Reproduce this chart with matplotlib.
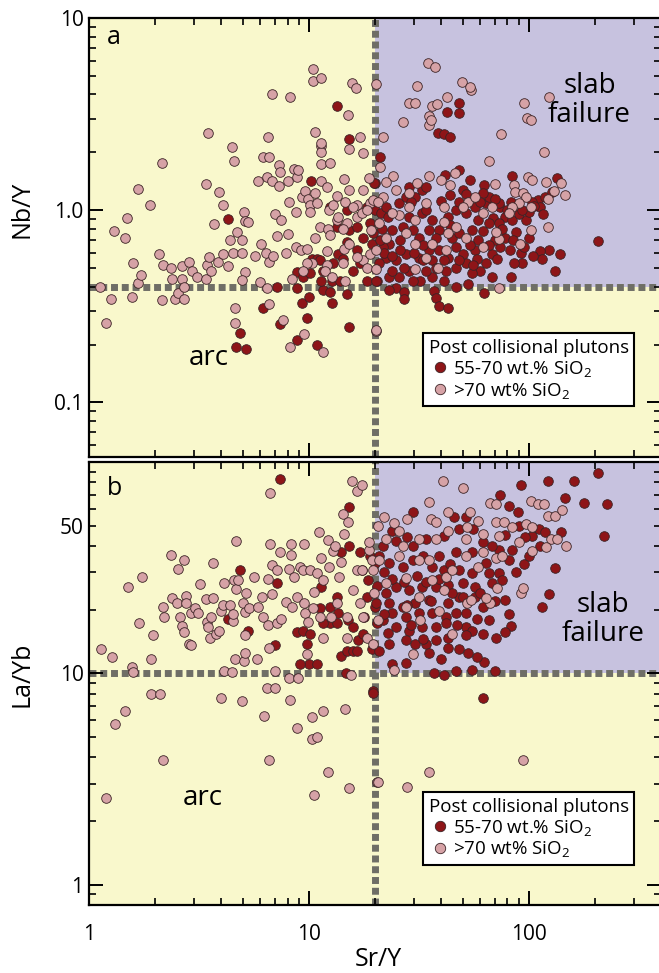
import matplotlib
matplotlib.use("Agg")
import matplotlib.pyplot as plt
import numpy as np
from matplotlib import ticker
from matplotlib.lines import Line2D

plt.rcParams['font.family'] = ['Open Sans', 'DejaVu Sans']
plt.rcParams['mathtext.fontset'] = 'custom'
plt.rcParams['mathtext.rm'] = 'Open Sans'
plt.rcParams['mathtext.it'] = 'Open Sans'

# thresholds between arc and slab failure fields
sr_y_cut = 20
nb_y_cut = 0.4
la_yb_cut = 10

# panel a: Nb/Y vs Sr/Y, 55-70 wt.% SiO2
a_red_x = [4.3, 13.4, 15.3, 10.2, 19.9, 4.85, 4.65, 5.2, 6.2, 7.15, 7.4, 8.8, 8.8, 9.3, 9.8, 10.0, 10.9,
           11.6, 12.5, 12.7, 14.9, 15.2, 8.8, 9.4, 10.1, 10.3, 10.9, 11.4, 11.6, 12.7, 12.9, 13.4, 13.5,
           14.3, 14.9, 15.3, 15.9, 16.5, 17.0, 17.6, 18.3, 18.9, 19.3, 19.5, 20.4, 12.5, 14.9, 18.3, 19.9,
           16.5, 11.2, 13.8,
           48, 42.3, 48, 38.5, 41, 44, 48, 41.5, 54, 62.5, 84, 135, 207, 21, 19.7, 21.2, 22.4, 23.1, 25,
           23.1, 27.2, 27.2, 37, 37.8, 39, 42.8, 46.6, 62.5, 83, 132, 139, 124, 112, 115, 93, 86, 92, 95,
           88, 97, 110, 113, 119, 104, 83, 74, 78, 69, 66, 73, 78, 74, 68, 64, 60, 68, 55, 52, 50, 57, 59,
           55, 59, 64, 66, 57, 52, 46.6, 43, 45, 46.6, 43, 42, 46.6, 41, 36.5, 34, 32, 29.7, 28.5, 27,
           25.6, 24, 25, 27.6, 31.6, 36.5, 39, 35.1, 31.6, 29.7, 26.8, 24, 23.1, 21.7, 20.8, 20.1, 22.4,
           25.6, 28.5, 32.8, 36.5, 39, 35.1, 27.6, 30.5, 32.8, 28.5, 34, 50, 62, 73, 84, 41, 53,
           26, 30, 33, 38, 44, 48, 54, 58, 62, 70, 76, 82, 90, 100, 106, 21.5, 23, 29, 34, 40, 44, 48, 52,
           60, 70, 80, 93, 128, 116, 21, 22, 24, 26, 33, 38, 48, 56, 66, 72, 85, 100, 105]
a_red_y = [0.90, 3.5, 2.35, 1.42, 1.39, 0.23, 0.195, 0.19, 0.31, 0.40, 0.256, 0.395, 0.21, 0.33, 0.276,
           0.355, 0.20, 0.385, 0.375, 0.33, 0.365, 0.247, 0.475, 0.45, 0.47, 0.56, 0.555, 0.43, 0.485,
           0.43, 0.53, 0.815, 0.595, 0.555, 0.68, 0.785, 0.485, 0.62, 0.53, 0.72, 0.43, 0.855, 0.67, 0.76,
           0.43, 1.04, 1.0, 1.04, 1.0, 0.815, 0.55, 0.43,
           3.63, 3.26, 3.2, 2.53, 2.5, 2.41, 1.62, 1.53, 1.44, 1.35, 1.51, 1.47, 0.69, 1.89, 1.39, 0.965,
           0.567, 0.45, 0.395, 0.385, 0.377, 0.345, 0.38, 0.35, 0.318, 0.31, 0.40, 0.372, 0.45, 0.48, 0.59,
           0.62, 0.61, 0.555, 0.53, 0.53, 0.60, 0.64, 0.77, 0.885, 1.13, 1.04, 1.17, 1.10, 1.10, 1.04,
           0.92, 0.91, 0.855, 0.855, 0.72, 0.64, 0.595, 0.53, 0.485, 0.45, 0.47, 0.53, 0.595, 0.62, 0.70,
           0.785, 0.885, 1.09, 1.17, 1.04, 0.965, 1.0, 0.92, 0.72, 0.64, 0.567, 0.485, 0.50, 0.43, 0.45,
           0.485, 0.43, 0.43, 0.485, 0.50, 0.45, 0.485, 0.548, 0.595, 0.567, 0.548, 0.62, 0.62, 0.72,
           0.785, 0.815, 0.785, 0.67, 0.64, 0.53, 0.43, 1.04, 1.09, 0.92, 0.965, 0.885, 0.785, 0.785, 1.17,
           1.17, 1.27, 1.32, 1.32, 1.27, 1.23, 1.09, 0.885, 0.548, 0.415,
           0.70, 0.60, 0.66, 0.72, 0.84, 0.76, 0.66, 0.56, 0.78, 0.70, 0.80, 0.62, 0.95, 0.98, 1.05, 0.80,
           0.92, 1.10, 1.00, 1.12, 1.20, 1.10, 1.22, 1.10, 1.15, 1.00, 1.00, 1.25, 0.95, 0.70, 0.60, 0.58,
           0.62, 0.55, 0.50, 0.55, 0.52, 0.66, 0.56, 0.70, 0.72, 0.58]

# panel a: Nb/Y vs Sr/Y, >70 wt% SiO2
a_pink_x = [1.12, 1.19, 1.26, 1.30, 1.46, 1.49, 1.57, 1.58, 1.67, 1.67, 1.72, 1.89, 2.08, 2.15, 2.15, 2.17,
            2.36, 2.38, 2.46, 2.54, 2.64, 2.64, 2.70, 2.70, 2.84, 2.94, 3.1, 3.4, 3.44, 3.5, 3.4, 3.47,
            3.6, 3.7, 3.85, 3.9, 4.05, 4.05, 4.3, 4.46, 4.55, 4.4, 4.5, 4.6, 4.6, 4.7, 4.95, 4.95, 5.06,
            5.1, 5.3, 5.1, 4.95, 5.7, 5.98, 6.05, 6.2, 6.4, 6.45, 6.5, 6.6, 5.9, 6.45, 6.8, 6.6, 6.6, 6.8,
            6.9, 7.05, 7.15, 7.3, 7.3, 7.4, 7.45, 7.6, 7.85, 8.0, 8.0, 8.1, 8.2, 8.2, 8.4, 8.6, 8.7, 8.7,
            8.8, 8.95, 9.2, 9.3, 9.5, 9.6, 9.8, 9.9, 10.1, 10.1, 10.3, 10.4, 10.4, 10.7, 10.7, 10.7, 10.9,
            11.2, 11.3, 11.4, 11.4, 11.3, 11.3, 11.4, 12.1, 12.1, 12.1, 12.2, 12.5, 12.5, 11.6, 12.3,
            12.9, 13.4, 13.4, 14.4, 14.6, 14.4, 14.6, 15.0, 15.2, 15.2, 15.7, 16.3, 16.5, 17.0, 17.6, 17.6,
            18.7, 18.9, 19.1, 18.9, 20.1, 20.1, 13.5, 14.9, 15.9, 16.5, 17.4, 18.3, 14.3, 15.3, 16.5, 18.3,
            14.3, 11.8, 12.7, 9.8, 9.4, 17.6, 19.5,
            34.7, 37.3, 31.2, 49.6, 54.4, 53.8, 42.3, 28.5, 30.3, 36.5, 38.1, 35.1, 35.1, 35.9, 26.7, 95,
            98, 102, 124, 75, 117, 66, 21.7, 21.0, 24.1, 35.3, 46, 40, 44, 70, 99, 103, 120, 141, 147, 123,
            131, 86, 87, 94, 97, 90, 102, 84, 81, 123, 102, 91, 73, 68, 62, 53, 57, 50, 41, 34, 31, 28.5,
            25, 22.4, 21.7, 20.6, 25.6, 30.5, 41, 46.6, 71, 62, 52, 43, 36.5, 30.5, 27.6, 22.4, 34, 42,
            30.5, 38.5, 20.1, 20.1, 73, 20.3, 20.8, 28.5, 24]
a_pink_y = [0.40, 0.26, 0.345, 0.78, 0.72, 0.91, 0.355, 0.53, 1.29, 0.42, 0.46, 1.06, 0.59, 1.76, 0.34, 0.52,
            0.50, 0.44, 0.345, 0.37, 0.51, 0.44, 0.345, 0.40, 0.54, 0.485, 0.45, 0.44, 0.52, 0.57, 1.37,
            2.53, 0.48, 0.845, 0.54, 1.24, 1.07, 0.595, 0.515, 2.14, 1.80, 0.70, 0.60, 0.31, 0.26, 0.77,
            0.70, 0.60, 0.975, 0.875, 0.865, 0.475, 0.435, 0.575, 0.425, 0.665, 1.89, 0.60, 0.395, 2.41,
            1.89, 1.42, 1.49, 1.42, 0.54, 0.325, 4.0, 0.575, 0.95, 0.73, 1.34, 1.72, 1.58, 0.89, 0.27, 0.60,
            0.75, 1.42, 1.10, 3.9, 0.195, 0.44, 1.64, 0.975, 0.64, 1.49, 1.62, 0.62, 1.17, 0.227, 1.26,
            0.625, 1.14, 1.06, 0.975, 0.53, 5.4, 4.7, 2.56, 0.72, 1.23, 1.09, 0.815, 2.16, 2.0, 4.9, 2.24,
            1.74, 1.42, 1.32, 0.61, 0.52, 0.795, 0.74, 1.76, 0.183, 1.0, 1.06, 1.18, 0.89, 1.45, 1.11,
            0.63, 0.43, 3.14, 2.09, 1.27, 4.6, 4.3, 1.06, 2.41, 1.99, 0.55, 1.47, 1.09, 0.785, 0.595, 4.56,
            0.235, 0.92, 0.855, 1.04, 0.92, 0.965, 1.0, 0.80, 0.67, 0.57, 0.50, 0.53, 0.485, 0.45, 0.53,
            0.485, 1.27, 1.13,
            5.8, 5.55, 4.45, 4.67, 4.2, 4.35, 3.9, 3.6, 3.6, 3.5, 3.55, 3.1, 2.79, 2.93, 2.89, 3.63, 3.03,
            2.93, 3.9, 2.50, 2.0, 1.80, 2.41, 1.68, 1.51, 1.51, 1.56, 1.44, 1.35, 1.37, 1.49, 1.44, 1.40,
            1.39, 1.20, 1.14, 1.26, 1.35, 1.24, 1.23, 1.17, 1.09, 1.04, 1.04, 0.965, 0.82, 0.785, 0.67,
            0.705, 1.04, 0.965, 1.10, 1.17, 1.04, 1.04, 1.09, 1.39, 1.23, 1.27, 1.40, 1.17, 1.10, 0.94,
            0.885, 0.865, 0.815, 0.77, 0.64, 0.72, 0.76, 0.67, 0.67, 0.76, 0.72, 0.567, 0.62, 0.497, 0.50,
            0.62, 0.497, 0.395, 0.238, 0.855, 1.04, 0.965]

# panel b: La/Yb vs Sr/Y, 55-70 wt.% SiO2
b_red_x = [7.4, 15.3, 4.85, 7.15, 7.05, 5.3, 4.3, 8.8, 9.4, 10.1, 9.8, 10.0, 10.9, 11.4, 11.2, 12.5, 13.4,
           13.5, 14.0, 14.0, 14.9, 15.0, 15.3, 15.9, 15.9, 16.5, 16.7, 17.0, 17.4, 17.7, 17.9, 18.3, 18.5,
           18.9, 19.3, 19.9, 19.9, 20.4, 14.7, 19.6, 9.1, 13.4, 11.6, 12.5,
           92, 123, 161, 207, 228, 178, 147, 220, 132, 124, 115, 74, 81, 89, 29.7, 45.6, 52, 111, 140, 119,
           104, 84, 73, 81, 64, 55, 46.6, 41, 34, 29.7, 25, 21.7, 20.8, 23.1, 26.7, 29.7, 36.5, 41, 48, 55,
           66, 73, 76, 68, 57, 50, 43, 37.8, 32.8, 28.5, 25, 22.4, 20.1, 23.1, 26.7, 30.5, 35.1, 43, 48,
           57, 62, 52, 46.6, 42, 36.5, 31.6, 27.6, 24, 21.7, 25, 28.5, 32.8, 37.8, 42, 52, 55, 62, 66, 78,
           81, 83, 78, 71, 52, 43, 37.8, 34, 30.5, 27.6, 23.1, 20.8, 24, 27.6, 35.1, 43, 48, 53, 62.5, 37,
           41, 46.6, 55, 70, 40, 19.6, 62,
           22, 24, 27, 31, 34, 39, 45, 50, 60, 70, 88, 95, 100, 62, 56, 48, 39, 33, 28, 24, 44, 36, 29, 58,
           68, 78, 90, 96, 112, 28, 33, 47, 22, 20.5, 23, 58]
b_red_y = [83, 61.5, 30.9, 26.8, 13.6, 15.9, 18.0, 15.6, 15.9, 15.4, 13.8, 11.1, 11.1, 25.6, 20.3, 17.2, 22.9,
           19.2, 12.1, 37.3, 12.8, 17.8, 39.9, 16.5, 12.8, 12.8, 14.3, 37.3, 30.9, 15.4, 18.4, 22.9, 27.7,
           35.7, 13.0, 33.4, 20.5, 17.2, 10.0, 8.2, 11.1, 17.2, 17.2, 20.5,
           77.5, 81.5, 81.5, 89, 63, 64, 67.8, 44.6, 31.6, 23.7, 20.5, 70, 62, 58, 58, 55, 55, 48, 46.5,
           46.5, 44.6, 38.5, 38.5, 34.5, 33.4, 37.3, 37.3, 44.6, 43, 39.9, 42.1, 39.9, 35.7, 33.4, 32.0,
           34.5, 32.0, 30.9, 30.9, 29.9, 29.9, 29.9, 27.7, 26.8, 25.6, 26.8, 26.2, 25.6, 25.6, 24.8, 25.6,
           24.0, 21.4, 21.4, 20.5, 21.4, 22.3, 21.4, 22.9, 22.9, 20.5, 19.2, 19.2, 18.4, 19.2, 19.2, 18.4,
           19.2, 17.8, 16.5, 15.9, 16.5, 16.5, 17.2, 16.5, 15.9, 15.4, 17.8, 22.3, 19.0, 16.7, 15.6, 14.7,
           15.1, 14.7, 14.3, 13.8, 13.8, 14.3, 13.8, 12.8, 11.1, 11.2, 12.5, 13.2, 13.0, 12.5, 11.3, 10.0,
           9.8, 10.3, 10.4, 10.2, 11.7, 8.1, 7.6,
           30, 28, 27, 29, 27, 28, 24, 23, 24, 22, 30, 33, 36, 42, 48, 48, 36, 36, 44, 47, 33, 22, 17, 18,
           40, 45, 50, 44, 40, 21, 14.5, 17, 19, 26, 15.5, 12]

# panel b: La/Yb vs Sr/Y, >70 wt% SiO2
b_pink_x = [1.13, 1.27, 1.19, 1.31, 1.46, 1.50, 1.57, 1.58, 1.69, 1.74, 1.91, 1.91, 1.95, 2.1, 2.17, 2.17,
            2.19, 2.36, 2.38, 2.5, 2.54, 2.59, 2.64, 2.7, 2.7, 2.76, 2.76, 2.84, 2.9, 2.9, 3.03, 3.13, 3.2,
            3.4, 3.44, 3.47, 3.55, 3.6, 3.65, 3.65, 3.78, 3.9, 3.97, 3.97, 4.05, 4.1, 4.1, 4.37, 4.46, 4.5,
            4.5, 4.55, 4.65, 4.6, 4.65, 4.75, 4.95, 5.0, 5.06, 5.1, 5.1, 5.1, 5.2, 5.33, 5.6, 5.8, 5.9,
            6.1, 6.2, 6.25, 6.45, 6.5, 6.5, 6.6, 6.6, 6.65, 6.65, 6.8, 6.8, 7.05, 7.05, 7.2, 7.2, 7.4,
            7.45, 7.9, 8.1, 8.1, 8.2, 8.3, 8.3, 8.4, 8.6, 8.8, 8.8, 8.9, 9.1, 9.5, 9.4, 9.5, 9.6, 9.8, 9.9,
            10.1, 10.3, 10.3, 10.4, 10.5, 10.9, 10.9, 11.1, 11.2, 11.4, 11.6, 11.6, 11.6, 12.2, 12.2, 12.3,
            12.6, 12.9, 13.1, 13.4, 13.7, 14.0, 14.3, 14.4, 14.6, 14.9, 15.0, 14.9, 15.3, 15.5, 15.7, 15.9,
            16.5, 16.5, 17.0, 17.4, 17.4, 17.6, 18.3, 18.7, 19.3, 20.4, 10.5,
            40.7, 50, 35.3, 43, 53.8, 67, 71, 102, 110, 118, 22, 24.4, 25.6, 28, 35.9, 37.8, 43, 52.5, 58.5,
            71, 77, 84, 97, 104, 122, 132, 142, 126, 135, 148, 120, 104, 90, 73, 62, 52, 37.8, 31.6, 26.7,
            22.4, 20.6, 18.7, 19.5, 20.8, 25.6, 31.6, 35.1, 41.9, 52, 62, 71, 76, 59, 45, 36.5, 27.6, 22.4,
            19.7, 31.6, 41, 52.5, 54.4, 67, 64, 72, 92, 94, 39, 27.6, 32, 45, 29.7, 24.4, 20.6, 19.5, 94,
            35.3, 27.9, 20.6]
b_pink_y = [13.0, 11.9, 2.56, 5.75, 6.64, 25.6, 10.7, 10.1, 17.2, 28.6, 11.7, 8.0, 15.1, 8.0, 20.5, 3.9,
            18.4, 36.1, 22.7, 21.4, 31.2, 18.4, 16.7, 15.6, 34.5, 23.2, 21.4, 13.8, 13.6, 19.2, 20.3, 19.2,
            26.5, 22.4, 17.4, 16.5, 14.7, 18.4, 33.1, 22.7, 15.4, 15.9, 7.6, 19.8, 21.0, 26.8, 10.3, 21.0,
            10.1, 17.6, 19.0, 27.7, 42.1, 11.7, 25.0, 27.7, 7.4, 21.4, 11.4, 19.4, 15.1, 12.5, 24.0, 20.3,
            28.6, 11.7, 20.5, 22.9, 18.4, 6.3, 8.5, 17.0, 28.0, 13.2, 3.9, 71, 40.7, 32.6, 23.7, 8.5, 10.3,
            17.2, 30.9, 37.3, 18.0, 21.7, 31.2, 9.5, 7.5, 40.7, 36.1, 20.5, 28.6, 5.5, 22.9, 9.5, 32.0,
            40.7, 30.9, 21.4, 19.2, 12.4, 17.4, 30.9, 6.2, 4.9, 20.3, 24.2, 29.9, 4.98, 46.5, 18.4, 35.0,
            6.64, 27.7, 14.7, 42.6, 3.42, 32.0, 18.4, 37.7, 39.9, 21.4, 28.6, 33.8, 56.9, 45.5, 6.8, 14.7,
            52.0, 18.4, 2.86, 9.8, 81, 24.8, 72.5, 30.9, 21.4, 78, 30.9, 18.4, 14.7, 38.5, 34.5, 3.05, 2.65,
            81, 75, 65, 58, 58, 64, 63, 65.5, 63, 63, 55, 51.5, 47, 53.9, 53.9, 52, 47, 49.2, 52.5, 52, 52,
            49.2, 50.9, 49.2, 55.5, 55.5, 59.3, 43, 43, 39.9, 39.5, 37.7, 41.8, 44.6, 45.5, 43, 43, 43,
            39.9, 43, 49.8, 41.8, 30.9, 34.5, 35.7, 34.5, 34.5, 28.6, 35.7, 37.3, 35.2, 35.7, 32.0, 30.9,
            27.7, 28.2, 26.8, 24.0, 22.9, 24.8, 21.4, 22.3, 21.4, 22.7, 25.4, 24.0, 25.4, 19.8, 20.5, 17.8,
            15.4, 12.4, 10.4, 17.8, 13.8, 3.9, 3.42, 2.9, 3.05]

yellow = '#f9f8cc'
purple = '#c7c2df'
red_fc = '#8e1518'
pink_fc = '#d6a2a6'
edge = '#3b2325'
line_c = '#6f6e66'

fig = plt.figure(figsize=(6.59, 9.73), dpi=100)
ax_a = fig.add_axes([0.1351, 0.5303, 0.868, 0.4512])
ax_b = fig.add_axes([0.1351, 0.0699, 0.868, 0.4553])

xlim = (1, 400)
panels = [
    (ax_a, a_red_x, a_red_y, a_pink_x, a_pink_y, nb_y_cut, (0.052, 10), 'a', 'Nb/Y'),
    (ax_b, b_red_x, b_red_y, b_pink_x, b_pink_y, la_yb_cut, (0.8, 100), 'b', 'La/Yb'),
]

for ax, rx, ry, px, py, ycut, ylim, tag, ylabel in panels:
    ax.set_xscale('log')
    ax.set_yscale('log')
    ax.set_xlim(*xlim)
    ax.set_ylim(*ylim)
    ax.set_facecolor(yellow)
    ax.fill_between([sr_y_cut, xlim[1]], ycut, ylim[1], color=purple, lw=0, zorder=0)
    ax.axvline(sr_y_cut, color=line_c, lw=5, dashes=(1.0, 0.55), zorder=1)
    ax.axhline(ycut, color=line_c, lw=5, dashes=(1.0, 0.55), zorder=1)
    ax.scatter(rx, ry, s=48, c=red_fc, edgecolors=edge, linewidths=0.6, zorder=3)
    ax.scatter(px, py, s=48, c=pink_fc, edgecolors=edge, linewidths=0.6, zorder=3)

    ax.tick_params(which='both', direction='in', top=True, right=True, labelsize=15)
    ax.tick_params(which='major', length=10, width=1.4)
    ax.tick_params(which='minor', length=5, width=1.2)
    ax.tick_params(axis='y', pad=4)
    ax.tick_params(axis='x', pad=14)
    for sp in ax.spines.values():
        sp.set_linewidth(1.6)

    ax.xaxis.set_major_locator(ticker.FixedLocator([1, 10, 100]))
    ax.xaxis.set_major_formatter(ticker.FixedFormatter(['1', '10', '100']))
    ax.xaxis.set_minor_locator(ticker.LogLocator(base=10, subs=np.arange(2, 10), numticks=20))
    ax.xaxis.set_minor_formatter(ticker.NullFormatter())
    ax.yaxis.set_minor_locator(ticker.LogLocator(base=10, subs=np.arange(2, 10), numticks=20))

    ax.text(0.031, 0.955 if tag == 'a' else 0.94, tag, transform=ax.transAxes,
            fontsize=18, ha='left', va='center')
    ax.set_ylabel(ylabel, fontsize=18)

    legend_handles = [
        Line2D([], [], ls='none', marker='o', ms=7.5, mfc=red_fc, mec=edge, mew=0.6),
        Line2D([], [], ls='none', marker='o', ms=7.5, mfc=pink_fc, mec=edge, mew=0.6),
    ]
    leg = ax.legend(legend_handles, ['55-70 wt.% SiO$_2$', '>70 wt% SiO$_2$'],
                    title='Post collisional plutons', loc='upper left',
                    bbox_to_anchor=(0.584, 0.282 if tag == 'a' else 0.255),
                    fontsize=13.5, title_fontsize=13.5, frameon=True, fancybox=False,
                    edgecolor='black', framealpha=1, handletextpad=0.1, handlelength=1.2,
                    labelspacing=0.1, borderpad=0.3, borderaxespad=0)
    leg.get_frame().set_linewidth(1.5)
    leg._legend_box.align = 'left'
    leg.set_zorder(5)

# panel a labels
ax_a.yaxis.set_major_locator(ticker.FixedLocator([0.1, 1, 10]))
ax_a.yaxis.set_major_formatter(ticker.FixedFormatter(['0.1', '1.0', '10']))
ax_a.yaxis.set_minor_formatter(ticker.NullFormatter())
ax_a.tick_params(axis='x', labelbottom=False)
ax_a.yaxis.set_label_coords(-0.095, 0.563)
ax_a.text(189, 3.74, 'slab\nfailure', fontsize=20, ha='center', va='center', linespacing=1.05)
ax_a.text(3.5, 0.17, 'arc', fontsize=20, ha='center', va='center')

# panel b labels
ax_b.yaxis.set_major_locator(ticker.FixedLocator([1, 10, 100]))
ax_b.yaxis.set_major_formatter(ticker.FixedFormatter(['1', '10', '']))
ax_b.yaxis.set_minor_formatter(ticker.FuncFormatter(lambda v, p: '50' if abs(v - 50) < 1e-6 else ''))
ax_b.tick_params(axis='y', which='minor', labelsize=15, pad=4)
ax_b.yaxis.set_label_coords(-0.095, 0.52)
ax_b.set_xlabel('Sr/Y', fontsize=18)
ax_b.xaxis.set_label_coords(0.505, -0.095)
ax_b.text(217, 17.9, 'slab\nfailure', fontsize=20, ha='center', va='center', linespacing=1.05)
ax_b.text(3.3, 2.57, 'arc', fontsize=20, ha='center', va='center')

fig.savefig('out.png', dpi=100)
